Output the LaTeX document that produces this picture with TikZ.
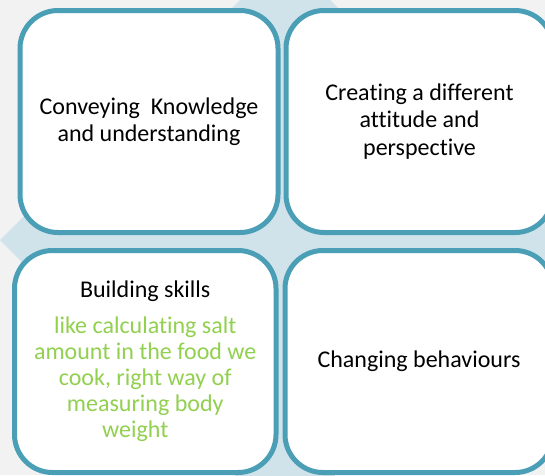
\documentclass[tikz,border=0pt]{standalone}
\usepackage{fontspec}
\setmainfont{Carlito}[Ligatures=NoCommon]
\usepackage{xcolor}
\usetikzlibrary{positioning}
\definecolor{boxline}{HTML}{4A9FB6}
\definecolor{diamfill}{HTML}{D0E3EA}
\definecolor{pagegray}{HTML}{F2F2F2}
\definecolor{skillgreen}{HTML}{92D050}

\begin{document}
\begin{tikzpicture}[x=1pt,y=-1pt,
  quad/.style={draw=boxline,line width=5pt,fill=white,rounded corners=38pt,
    align=center,inner sep=0pt,minimum height=222pt,
    font=\fontsize{24}{27.5}\selectfont}]
 \useasboundingbox (0,0) rectangle (545,475);
 \clip (0,0) rectangle (545,475);
 \fill[pagegray] (0,0) rectangle (545,475);
 % light blue diamond behind the four boxes
 \fill[diamfill] (0,240) -- (285,-45) -- (570,240) -- (285,525) -- cycle;

 \node[quad,minimum width=258pt] (know) at (149,121.5)
   {Conveying\ \ Knowledge\\and understanding};
 \node[quad,minimum width=267pt] (attit) at (419.5,121.5)
   {Creating a different\\attitude and\\perspective};
 \node[quad,minimum width=261.5pt,font=\fontsize{24}{26}\selectfont] (skill) at (145.25,361.5)
   {Building skills\\[10pt]
    \color{skillgreen}like calculating salt\\
    \color{skillgreen}amount in the food we\\
    \color{skillgreen}cook, right way of\\
    \color{skillgreen}measuring body\\
    \color{skillgreen}weight\hspace*{20pt}};
 \node[quad,minimum width=268pt] (behav) at (419,361.5)
   {Changing behaviours};
\end{tikzpicture}
\end{document}
